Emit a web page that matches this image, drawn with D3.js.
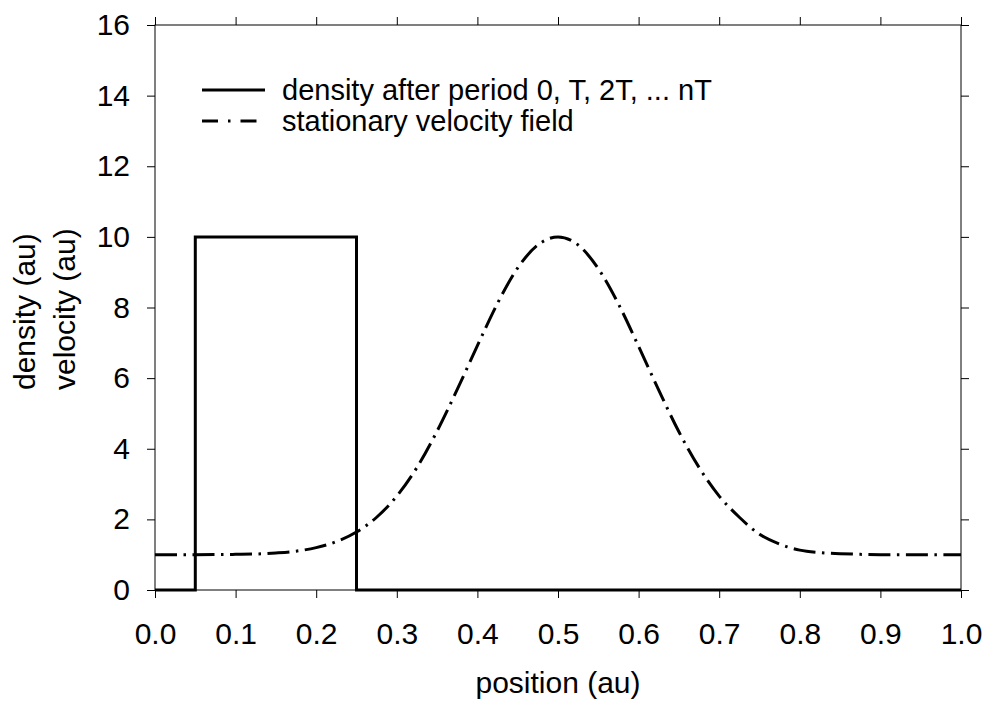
<!DOCTYPE html>
<html>
<head>
<meta charset="utf-8">
<script src="https://cdn.jsdelivr.net/npm/d3@7"></script>
<style>
  html, body { margin: 0; padding: 0; background: #fff; }
  text { font-family: "Liberation Sans", Arial, Helvetica, sans-serif; fill: #000; }
</style>
</head>
<body>
<svg id="chart" width="984" height="702"></svg>
<script>
// ---- data ----
const xTicks = [0.0, 0.1, 0.2, 0.3, 0.4, 0.5, 0.6, 0.7, 0.8, 0.9, 1.0];
const yTicks = [0, 2, 4, 6, 8, 10, 12, 14, 16];

const densityX = [0.00, 0.05, 0.05, 0.25, 0.25, 1.00];
const densityY = [0, 0, 10, 10, 0, 0];

const velocityX = [0.00, 0.05, 0.10, 0.125, 0.15, 0.175, 0.20, 0.225, 0.25, 0.275, 0.30, 0.325,
  0.35, 0.375, 0.40, 0.425, 0.45, 0.475, 0.50, 0.525, 0.55, 0.575, 0.60, 0.625, 0.65, 0.675,
  0.70, 0.725, 0.75, 0.775, 0.80, 0.825, 0.85, 0.875, 0.90, 0.95, 1.00];
const velocityY = [1.00, 1.00, 1.01, 1.02, 1.05, 1.10, 1.20, 1.37, 1.64, 2.06, 2.66, 3.47,
  4.50, 5.68, 6.92, 8.12, 9.12, 9.77, 10.00, 9.77, 9.10, 8.10, 6.90, 5.66, 4.48, 3.47,
  2.66, 2.06, 1.58, 1.30, 1.13, 1.06, 1.03, 1.01, 1.00, 1.00, 1.00];

const legendLabels = ["density after period 0, T, 2T, ... nT", "stationary velocity field"];
const xLabel = "position (au)";
const yLabels = ["density (au)", "velocity (au)"];

// ---- layout ----
const svg = d3.select("#chart");
const pL = 155, pR = 961, pT = 25, pB = 590;
const x = d3.scaleLinear().domain([0, 1]).range([pL, pR]);
const y = d3.scaleLinear().domain([0, 16]).range([pB, pT]);
const FS = 30;

// axes
const gx = svg.append("g").attr("transform", `translate(0,${pB})`)
  .call(d3.axisBottom(x).tickValues(xTicks).tickFormat(d3.format(".1f")).tickSize(8).tickSizeOuter(0).tickPadding(25));
const gy = svg.append("g").attr("transform", `translate(${pL},0)`)
  .call(d3.axisLeft(y).tickValues(yTicks).tickFormat(d3.format("d")).tickSize(8).tickSizeOuter(0).tickPadding(17));
const gt = svg.append("g").attr("transform", `translate(0,${pT})`)
  .call(d3.axisTop(x).tickValues(xTicks).tickFormat("").tickSize(8).tickSizeOuter(0));
const gr = svg.append("g").attr("transform", `translate(${pR},0)`)
  .call(d3.axisRight(y).tickValues(yTicks).tickFormat("").tickSize(8).tickSizeOuter(0));

[gx, gy, gt, gr].forEach(g => {
  g.select(".domain").remove();
  g.selectAll("line").attr("stroke", "#000").attr("stroke-width", 1);
  g.selectAll("text").attr("font-size", FS).attr("font-family", "Liberation Sans, Arial, sans-serif").attr("fill", "#000");
});

// frame
svg.append("rect").attr("x", pL).attr("y", pT)
  .attr("width", pR - pL).attr("height", pB - pT)
  .attr("fill", "none").attr("stroke", "#000").attr("stroke-width", 1);

// lines
const densityData = densityX.map((d, i) => [d, densityY[i]]);
const velocityData = velocityX.map((d, i) => [d, velocityY[i]]);

const DASH = "22,6.5,2.5,6.5";

svg.append("path").datum(velocityData)
  .attr("fill", "none").attr("stroke", "#000").attr("stroke-width", 3)
  .attr("stroke-dasharray", DASH)
  .attr("d", d3.line().x(d => x(d[0])).y(d => y(d[1])).curve(d3.curveMonotoneX));

svg.append("path").datum(densityData)
  .attr("fill", "none").attr("stroke", "#000").attr("stroke-width", 3)
  .attr("stroke-linejoin", "miter")
  .attr("d", d3.line().x(d => x(d[0])).y(d => y(d[1])));

// legend
const legX0 = 202, legX1 = 265, legTextX = 282;
const legY = [90, 121];
const LFS = 29;
svg.append("line").attr("x1", legX0).attr("x2", legX1).attr("y1", legY[0]).attr("y2", legY[0])
  .attr("stroke", "#000").attr("stroke-width", 3);
svg.append("line").attr("x1", legX0).attr("x2", legX1).attr("y1", legY[1]).attr("y2", legY[1])
  .attr("stroke", "#000").attr("stroke-width", 3).attr("stroke-dasharray", "16,10,2.5,10");
legendLabels.forEach((t, i) => {
  svg.append("text").attr("x", legTextX).attr("y", legY[i]).attr("dy", "0.35em")
    .attr("font-size", LFS).text(t);
});

// axis titles
svg.append("text").attr("x", (pL + pR) / 2).attr("y", 693)
  .attr("text-anchor", "middle").attr("font-size", FS).text(xLabel);
const ylx = [35, 75];
yLabels.forEach((t, i) => {
  svg.append("text").attr("transform", `translate(${ylx[i]},390) rotate(-90)`)
    .attr("text-anchor", "start").attr("font-size", FS).text(t);
});
</script>
</body>
</html>
